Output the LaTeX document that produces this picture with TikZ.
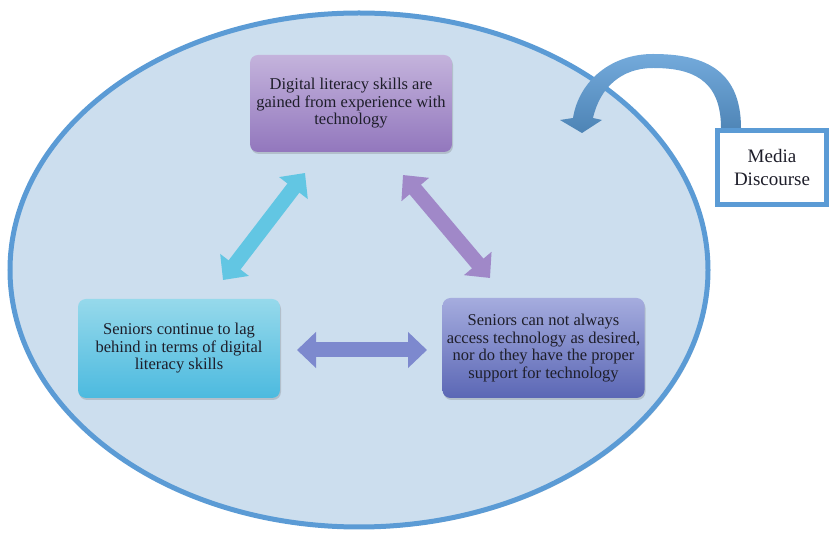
\documentclass[tikz,border=0pt]{standalone}
\usepackage{fontspec}
\setmainfont{Liberation Serif}
\usetikzlibrary{arrows.meta,shadows,shapes.geometric}

\definecolor{ringblue}{HTML}{5B9BD5}
\definecolor{ringfill}{HTML}{CCDEEE}
\definecolor{purpleA}{HTML}{C4B3DC}
\definecolor{purpleB}{HTML}{9277BD}
\definecolor{cyanA}{HTML}{96D9EB}
\definecolor{cyanB}{HTML}{4CBADF}
\definecolor{indigoA}{HTML}{A5ACDE}
\definecolor{indigoB}{HTML}{5B67B5}
\definecolor{cyanarrow}{HTML}{62C6E3}
\definecolor{purplearrow}{HTML}{A088C8}
\definecolor{indigoarrow}{HTML}{7D89CE}
\definecolor{textdark}{HTML}{1E1E2A}

\tikzset{
  softshadow/.style={drop shadow={shadow xshift=1pt, shadow yshift=-2pt, opacity=0.25, fill=black!60}},
  stage/.style={rounded corners=8pt, inner sep=4pt, align=center,
    minimum width=202pt, text=textdark, softshadow,
    font=\fontsize{16.5}{17.5}\selectfont},
  twoway/.style={line width=15pt, {Triangle[width=35pt,length=19pt]}-{Triangle[width=35pt,length=19pt]}},
}

\begin{document}
\begin{tikzpicture}[x=1pt,y=1pt]
  \useasboundingbox (0,0) rectangle (831,533);

  % outer ellipse
  \node (ring) [ellipse, draw=ringblue, line width=5pt, fill=ringfill, inner sep=0pt,
    minimum width=698pt, minimum height=514pt,
    drop shadow={shadow xshift=2pt, shadow yshift=-2pt, opacity=0.2, fill=black!50}] at (359,263) {};

  % curved arrow coming out of the media box
  \path[top color=ringblue!85!white, bottom color=ringblue!85!black, shading angle=0]
    (741,400) -- (741,405) .. controls (741,466) and (700,479) .. (653,479)
    .. controls (611,479) and (579,452) .. (573,415)
    -- (560,413) -- (582,400) -- (602,413) -- (593,415)
    .. controls (600,446) and (622,465) .. (653,465)
    .. controls (690,465) and (721,455) .. (721,405) -- (721,400) -- cycle;

  % media box
  \node (media) [draw=ringblue, line width=5pt, fill=white, minimum width=109pt,
    minimum height=74pt, align=center, text=textdark,
    font=\fontsize{19}{23}\selectfont] at (772,365.5) {Media\\Discourse};

  % three stages
  \node (gain) [stage, minimum height=97pt, top color=purpleA, bottom color=purpleB] at (351,429.5)
    {Digital literacy skills are\\gained from experience with\\technology};
  \node (lag) [stage, minimum height=99pt, top color=cyanA, bottom color=cyanB] at (179,184.5)
    {Seniors continue to lag\\behind in terms of digital\\literacy skills};
  \node (access) [stage, minimum height=100pt, top color=indigoA, bottom color=indigoB] at (543.5,185)
    {Seniors can not always\\access technology as desired,\\nor do they have the proper\\support for technology};

  % arrow ends
  \coordinate (lagUp) at (223,253);
  \coordinate (gainL) at (305,360);
  \coordinate (gainR) at (403,358);
  \coordinate (accessUp) at (490,255);
  \coordinate (lagR) at (297,183);
  \coordinate (accessL) at (427,183);

  \draw[twoway, cyanarrow] (lagUp) -- (gainL);
  \draw[twoway, purplearrow] (gainR) -- (accessUp);
  \draw[twoway, indigoarrow] (lagR) -- (accessL);
\end{tikzpicture}
\end{document}
